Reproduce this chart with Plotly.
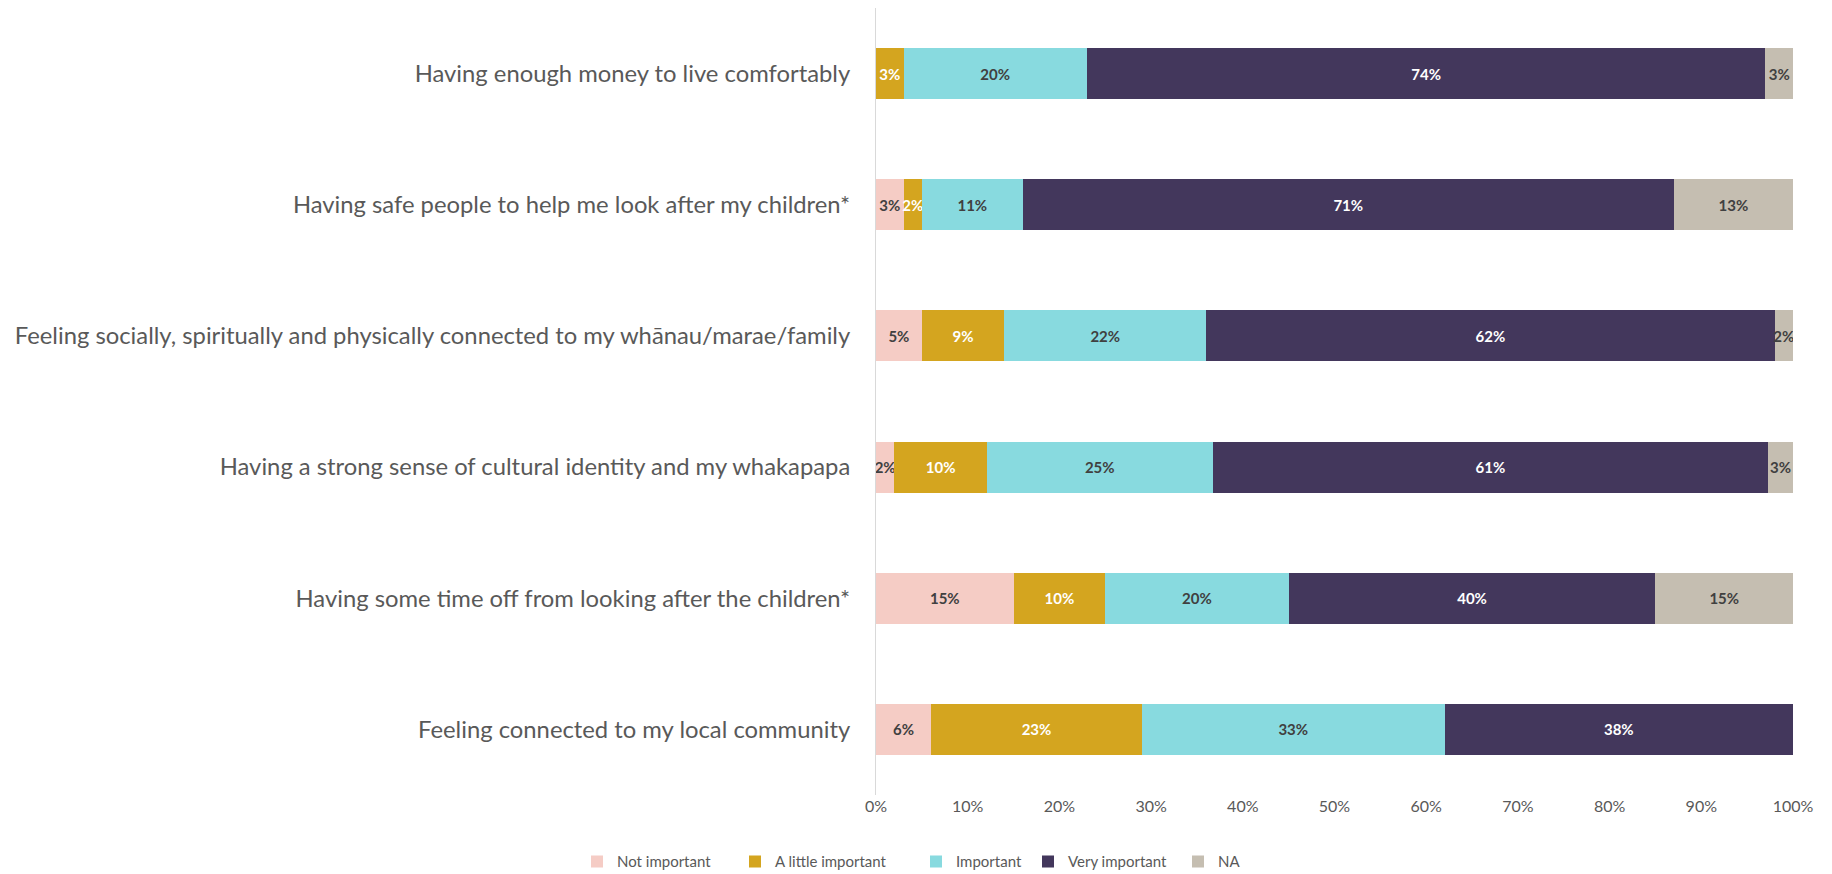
import plotly.graph_objects as go

# Survey items, top to bottom
categories = [
    "Having enough money to live comfortably",
    "Having safe people to help me look after my children*",
    "Feeling socially, spiritually and physically connected to my whānau/marae/family",
    "Having a strong sense of cultural identity and my whakapapa",
    "Having some time off from looking after the children*",
    "Feeling connected to my local community",
]

# Percentage of respondents per rating (labels show whole percentages)
not_important = [0, 3, 5, 2.0, 15, 6]
a_little_important = [3, 2, 9, 10.1, 10, 23]
important = [20, 11, 22, 24.6, 20, 33]
very_important = [74, 71, 62, 60.6, 40, 38]
na = [3, 13, 2, 2.7, 15, 0]

x_ticks = [0, 10, 20, 30, 40, 50, 60, 70, 80, 90, 100]

series = [
    ("Not important", not_important, "#F5CCC5", "#404040"),
    ("A little important", a_little_important, "#D4A51F", "#FFFFFF"),
    ("Important", important, "#88DADF", "#404040"),
    ("Very important", very_important, "#43375C", "#FFFFFF"),
    ("NA", na, "#C5BEB1", "#404040"),
]

# Horizontal position (px) of each legend key
legend_x_px = [577, 735, 916, 1028, 1178]

fig = go.Figure()
for i, (name, vals, color, txt_color) in enumerate(series):
    legend_id = "legend" if i == 0 else f"legend{i + 1}"
    fig.add_trace(go.Bar(
        name=name,
        y=categories,
        x=vals,
        orientation="h",
        marker=dict(color=color, line=dict(width=0)),
        text=[f"{round(v)}%" if v > 0 else "" for v in vals],
        textposition="inside",
        insidetextanchor="middle",
        textangle=0,
        constraintext="none",
        insidetextfont=dict(family="Lato", size=15, color=txt_color, weight="bold"),
        hoverinfo="skip",
        showlegend=True,
        legend=legend_id,
    ))
    fig.update_layout({legend_id: dict(
        orientation="h",
        xref="container",
        yref="container",
        x=legend_x_px[i] / 1832,
        y=0.014,
        xanchor="left",
        yanchor="middle",
        font=dict(family="Lato", size=15, color="#595959"),
        itemwidth=30,
        bgcolor="rgba(0,0,0,0)",
    )})

fig.update_layout(
    showlegend=True,
    barmode="stack",
    bargap=0.61,
    width=1832,
    height=874,
    margin=dict(l=876, r=39, t=8, b=79),
    paper_bgcolor="white",
    plot_bgcolor="white",
    uniformtext=dict(minsize=15, mode="show"),
    font=dict(family="Lato", color="#595959"),
    xaxis=dict(
        range=[0, 100],
        tickvals=x_ticks,
        ticktext=[f"{t}%" for t in x_ticks],
        showgrid=False,
        zeroline=False,
        showline=False,
        tickfont=dict(family="Lato", size=16, color="#595959"),
        ticks="",
    ),
    yaxis=dict(
        autorange="reversed",
        showgrid=False,
        zeroline=False,
        showline=True,
        linecolor="#D9D9D9",
        linewidth=1,
        ticks="",
        ticklabelstandoff=20,
        tickfont=dict(family="Lato", size=23.8, color="#595959"),
    ),
)

fig.write_html("out.html")
